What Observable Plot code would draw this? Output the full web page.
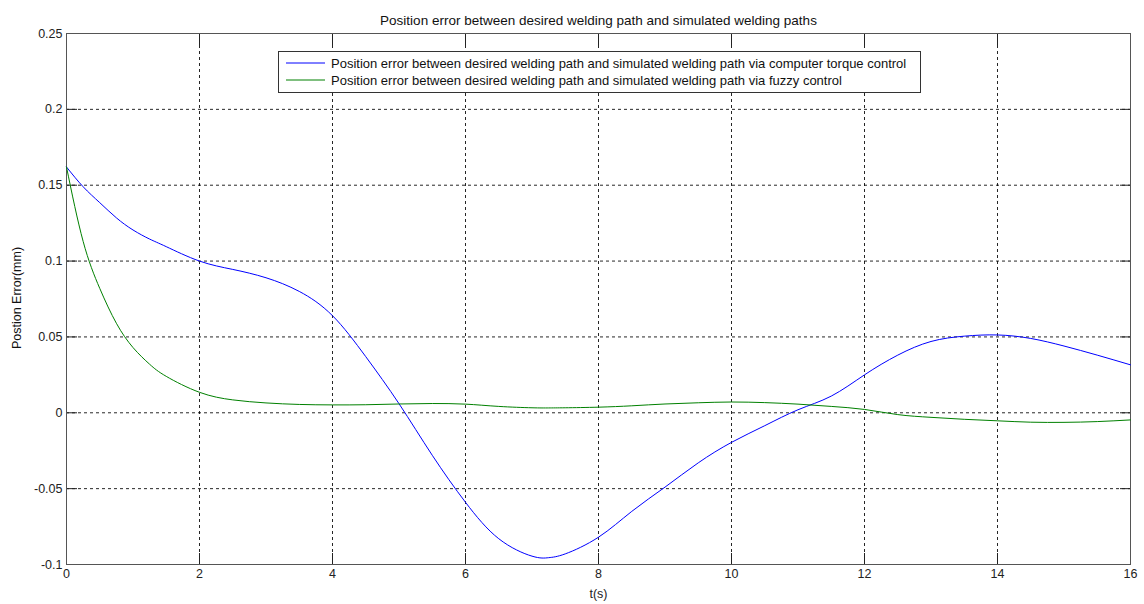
<!DOCTYPE html>
<html>
<head>
<meta charset="utf-8">
<script src="https://cdn.jsdelivr.net/npm/d3@7"></script>
<script src="https://cdn.jsdelivr.net/npm/@observablehq/plot@0.6"></script>
<style>
  html, body { margin: 0; padding: 0; background: #fff; }
  #wrap { position: relative; width: 1144px; height: 604px; font-family: "Liberation Sans", Arial, sans-serif; }
  #legend { position: absolute; left: 278px; top: 51px; width: 643px; height: 42px; border: 1px solid #333; background: #fff; box-sizing: border-box; }
  #legend svg { display: block; }
</style>
</head>
<body>
<div id="wrap"></div>
<script>
const titleText = "Position error between desired welding path and simulated welding paths";
const xLabel = "t(s)";
const yLabel = "Postion Error(mm)";
const seriesNames = [
  "Position error between desired welding path and simulated welding path via computer torque control",
  "Position error between desired welding path and simulated welding path via fuzzy control"
];
const seriesColors = ["#0000ff", "#008000"];
const xTicks = [0, 2, 4, 6, 8, 10, 12, 14, 16];
const yTicks = [-0.1, -0.05, 0, 0.05, 0.1, 0.15, 0.2, 0.25];

const t = [0, 0.25, 0.5, 0.75, 1, 1.25, 1.5, 2, 2.5, 3, 3.5, 4, 4.5, 5, 5.5, 6, 6.5, 7, 7.25, 7.5, 8, 8.5, 9, 9.5, 10, 10.5, 11, 11.5, 12, 12.5, 13, 13.5, 14, 14.5, 15, 15.5, 16];
const torqueErr = [0.162, 0.149, 0.1385, 0.1285, 0.1205, 0.1145, 0.1095, 0.100, 0.0945, 0.089, 0.080, 0.064, 0.037, 0.006, -0.028, -0.059, -0.083, -0.0945, -0.0955, -0.093, -0.082, -0.065, -0.049, -0.033, -0.0195, -0.0085, 0.002, 0.011, 0.025, 0.038, 0.047, 0.0505, 0.0513, 0.049, 0.044, 0.038, 0.0316];
const fuzzyErr = [0.162, 0.113, 0.082, 0.059, 0.043, 0.032, 0.024, 0.0135, 0.0085, 0.0065, 0.0055, 0.0052, 0.0053, 0.0058, 0.0061, 0.0057, 0.0042, 0.0033, 0.0032, 0.0033, 0.0037, 0.0046, 0.0058, 0.0066, 0.0071, 0.0067, 0.0057, 0.0042, 0.0022, -0.0012, -0.003, -0.0043, -0.0053, -0.0062, -0.0063, -0.0058, -0.0047];

const data = [];
t.forEach((tt, i) => {
  data.push({t: tt, v: torqueErr[i], s: seriesNames[0]});
  data.push({t: tt, v: fuzzyErr[i], s: seriesNames[1]});
});

const fmt = d => String(+d.toFixed(2));
const tickLen = 11;

const chart = Plot.plot({
  width: 1144,
  height: 604,
  marginLeft: 66,
  marginRight: 14,
  marginTop: 33,
  marginBottom: 40,
  style: {fontFamily: "Liberation Sans, Arial, sans-serif", fontSize: "12.5px", color: "#222", background: "#fff"},
  x: {domain: [0, 16], ticks: xTicks, tickFormat: fmt, label: null},
  y: {domain: [-0.1, 0.25], ticks: yTicks, tickFormat: fmt, label: null},
  color: {domain: seriesNames, range: seriesColors},
  marks: [
    Plot.gridX(xTicks, {stroke: "#000", strokeOpacity: 0.85, strokeDasharray: "3,3"}),
    Plot.gridY(yTicks, {stroke: "#000", strokeOpacity: 0.85, strokeDasharray: "3,3"}),
    Plot.axisX({ticks: xTicks, tickFormat: fmt, tickSize: -tickLen, tickPadding: tickLen + 5, stroke: "#222", fill: "#222",
      label: xLabel, labelAnchor: "center", labelArrow: "none", labelOffset: 33}),
    Plot.axisX({ticks: xTicks, anchor: "top", tickSize: -tickLen, stroke: "#222", label: null, text: null}),
    Plot.axisY({ticks: yTicks, tickFormat: fmt, tickSize: -tickLen, tickPadding: tickLen + 4, stroke: "#222", fill: "#222", label: null}),
    Plot.axisY({ticks: yTicks, anchor: "right", tickSize: -tickLen, stroke: "#222", label: null, text: null}),
    Plot.frame({stroke: "#555"}),
    Plot.line(data, {x: "t", y: "v", z: "s", stroke: "s", strokeWidth: 1, curve: "natural"}),
    Plot.text([titleText], {text: d => d, frameAnchor: "top", dy: -18, fill: "#111", fontSize: 13.5})
  ]
});

const wrap = document.getElementById("wrap");
wrap.appendChild(chart);

// Y-axis label, centred on the plot frame
d3.select(chart).append("text")
  .attr("transform", "translate(17,298) rotate(-90)")
  .attr("text-anchor", "middle")
  .attr("dy", "0.35em")
  .attr("font-family", "Liberation Sans, Arial, sans-serif")
  .attr("font-size", 12.5)
  .attr("fill", "#111")
  .text(yLabel);

// Legend
const legend = document.createElement("div");
legend.id = "legend";
wrap.appendChild(legend);
const lsvg = d3.select(legend).append("svg").attr("width", 641).attr("height", 40);
seriesNames.forEach((name, i) => {
  const y = 11 + i * 17;
  lsvg.append("line").attr("x1", 7).attr("x2", 46).attr("y1", y).attr("y2", y)
    .attr("stroke", seriesColors[i]).attr("stroke-width", 1);
  lsvg.append("text").attr("x", 52).attr("y", y).attr("dy", "0.35em")
    .attr("font-family", "Liberation Sans, Arial, sans-serif").attr("font-size", 13).attr("fill", "#111")
    .text(name);
});
</script>
</body>
</html>
